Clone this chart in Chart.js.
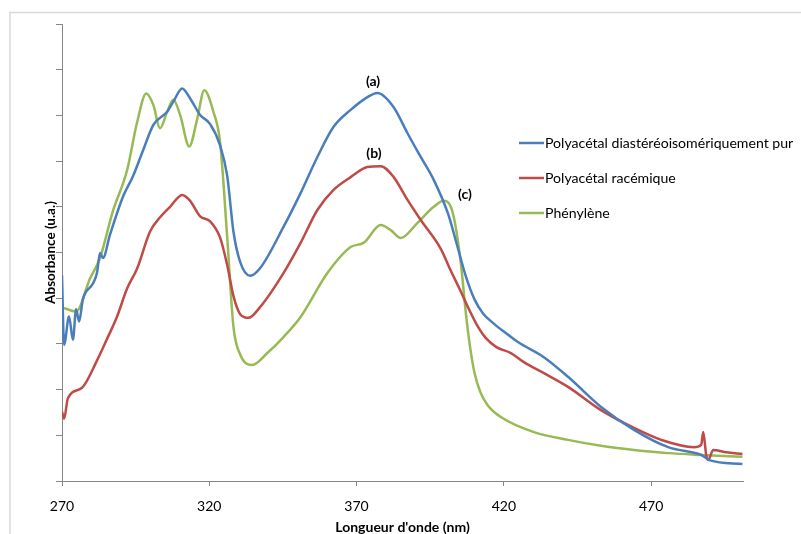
<!DOCTYPE html>
<html>
<head>
<meta charset="utf-8">
<script src="https://cdn.jsdelivr.net/npm/chart.js@4"></script>
<style>
  body { margin: 0; background: #fff; }
  canvas { display: block; }
</style>
</head>
<body>
<canvas id="spectre" width="801" height="534"></canvas>
<script>
// longueurs d'onde (nm) et absorbance (u.a.)
const wlA = [270, 270.7, 272.4, 273.7, 274.8, 275.8, 277.1, 280.5, 281.9, 282.9, 283.9, 286.3, 290.7, 294.1, 297.6, 301.0, 305.7, 307.8, 310.8, 313.5, 316.9, 320.3, 323.7, 326.1, 328.2, 330.5, 333.9, 337.3, 345.2, 351.0, 356.7, 362.2, 368.0, 373.7, 377.1, 382.6, 387.3, 391.8, 396.2, 401.0, 404.3, 407.0, 410.0, 413.0, 416.5, 420.0, 424.8, 433.6, 441.8, 453.0, 464.2, 475.8, 487.0, 490.0, 501.0];
const absA = [4.50, 2.98, 3.60, 3.09, 3.76, 3.49, 3.98, 4.32, 4.56, 4.99, 4.88, 5.39, 6.22, 6.67, 7.25, 7.79, 8.08, 8.30, 8.59, 8.37, 8.01, 7.81, 7.34, 6.67, 5.46, 4.79, 4.49, 4.66, 5.56, 6.30, 7.09, 7.75, 8.12, 8.40, 8.49, 8.18, 7.61, 7.09, 6.59, 5.86, 5.12, 4.50, 3.98, 3.66, 3.45, 3.27, 3.04, 2.71, 2.28, 1.62, 1.12, 0.74, 0.57, 0.45, 0.37];

const wlB = [270, 270.7, 272.0, 276.8, 281.9, 285.3, 288.7, 292.1, 295.5, 299.9, 303.3, 306.7, 310.8, 313.5, 316.9, 320.3, 323.7, 326.1, 328.2, 330.5, 333.3, 337.3, 345.2, 351.0, 356.7, 362.2, 368.0, 373.7, 378.2, 382.6, 387.3, 391.8, 398.6, 402.0, 405.0, 408.0, 411.0, 414.0, 417.5, 422.4, 426.8, 433.6, 441.8, 453.0, 464.2, 473.4, 484.6, 487.0, 487.7, 488.7, 489.4, 491.1, 495.5, 501.0];
const absB = [1.52, 1.36, 1.81, 2.04, 2.64, 3.11, 3.60, 4.21, 4.65, 5.46, 5.77, 6.00, 6.26, 6.13, 5.79, 5.68, 5.32, 4.72, 4.05, 3.65, 3.57, 3.81, 4.55, 5.21, 5.93, 6.37, 6.65, 6.87, 6.89, 6.65, 6.15, 5.71, 5.08, 4.60, 4.20, 3.78, 3.40, 3.12, 2.93, 2.80, 2.60, 2.36, 2.06, 1.55, 1.16, 0.90, 0.74, 0.79, 1.07, 0.57, 0.46, 0.68, 0.63, 0.59];

const wlC = [270, 274.8, 279.5, 282.9, 287.3, 292.1, 295.5, 298.6, 301.0, 303.3, 305.7, 307.8, 310.1, 313.2, 315.9, 318.3, 321.4, 323.7, 326.1, 328.2, 330.5, 334.6, 339.7, 345.2, 351.0, 360.1, 368.0, 372.4, 378.2, 381.6, 385.0, 390.7, 396.2, 399.6, 402.7, 405.4, 407.1, 408.5, 410.0, 412.0, 414.5, 419.0, 430.2, 441.8, 453.0, 464.2, 475.8, 487.0, 501.0];
const absC = [3.80, 3.71, 4.43, 4.88, 5.91, 6.80, 7.85, 8.48, 8.23, 7.72, 8.08, 8.34, 8.01, 7.32, 7.92, 8.55, 8.08, 7.40, 5.32, 3.38, 2.77, 2.54, 2.80, 3.15, 3.59, 4.55, 5.12, 5.21, 5.60, 5.49, 5.32, 5.65, 6.00, 6.13, 5.86, 4.77, 3.68, 2.95, 2.38, 1.95, 1.66, 1.40, 1.07, 0.90, 0.77, 0.68, 0.61, 0.57, 0.53];

const seriesNames = ['Polyacétal diastéréoisomériquement pur', 'Polyacétal racémique', 'Phénylène'];
const seriesColors = ['#4a7ebb', '#be4b48', '#98b954'];

const xTicks = [270, 320, 370, 420, 470];
const yTicks = [0, 1, 2, 3, 4, 5, 6, 7, 8, 9, 10];

// étiquettes (a), (b), (c) : [texte, nm, absorbance]
const peakLabels = [['(a)', 375.6, 8.75], ['(b)', 375.9, 7.16], ['(c)', 406.8, 6.28]];

const FONT = 'Lato, "Open Sans", sans-serif';

function toPoints(xs, ys) {
    return xs.map((x, i) => ({ x: x, y: ys[i] }));
}

// cadre gris clair + légende et étiquettes dessinées à la main
const decor = {
    id: 'decor',
    beforeDraw(chart) {
        const ctx = chart.ctx;
        ctx.save();
        ctx.fillStyle = '#fff';
        ctx.fillRect(0, 0, chart.width, chart.height);
        ctx.strokeStyle = '#d9d9d9';
        ctx.lineWidth = 1.5;
        ctx.strokeRect(10, 12.5, chart.width + 20, chart.height + 20);
        ctx.restore();
    },
    afterDatasetsDraw(chart) {
        const ctx = chart.ctx;
        const xs = chart.scales.x, ys = chart.scales.y;
        ctx.save();
        ctx.fillStyle = '#000';
        ctx.font = 'bold 14px ' + FONT;
        ctx.textAlign = 'center';
        ctx.textBaseline = 'middle';
        peakLabels.forEach(p => {
            ctx.fillText(p[0], xs.getPixelForValue(p[1]), ys.getPixelForValue(p[2]));
        });

        ctx.font = '14.1px ' + FONT;
        ctx.textAlign = 'left';
        chart.data.datasets.forEach((ds, i) => {
            const y = 143 + i * 35;
            ctx.strokeStyle = ds.borderColor;
            ctx.lineWidth = 2.5;
            ctx.beginPath();
            ctx.moveTo(519, y);
            ctx.lineTo(544, y);
            ctx.stroke();
            ctx.fillText(ds.label, 545, y);
        });
        ctx.restore();
    }
};

const ctx = document.getElementById('spectre');
const chart = new Chart(ctx, {
    type: 'line',
    data: {
        datasets: [
            { label: seriesNames[0], data: toPoints(wlA, absA), borderColor: seriesColors[0] },
            { label: seriesNames[1], data: toPoints(wlB, absB), borderColor: seriesColors[1] },
            { label: seriesNames[2], data: toPoints(wlC, absC), borderColor: seriesColors[2] }
        ].map(ds => Object.assign(ds, {
            borderWidth: 2.5,
            pointRadius: 0,
            fill: false,
            cubicInterpolationMode: 'monotone'
        }))
    },
    options: {
        responsive: false,
        animation: false,
        layout: { padding: { top: 24, right: 58, left: 0, bottom: 0 } },
        plugins: {
            legend: { display: false },
            tooltip: { enabled: false }
        },
        scales: {
            x: {
                type: 'linear',
                min: 270,
                max: 501.2,
                afterBuildTicks: (s) => { s.ticks = xTicks.map(v => ({ value: v })); },
                afterFit: (s) => { s.height = 53; },
                grid: { drawOnChartArea: false, drawTicks: true, tickLength: 5, color: '#868686' },
                border: { color: '#868686', width: 1 },
                ticks: { color: '#000', font: { family: FONT, size: 14 }, padding: 12, maxRotation: 0 },
                title: {
                    display: true,
                    text: "Longueur d'onde (nm)",
                    color: '#000',
                    font: { family: FONT, size: 14, weight: 'bold', lineHeight: 1 },
                    padding: { top: 0, bottom: 0 }
                }
            },
            y: {
                min: 0,
                max: 10,
                afterBuildTicks: (s) => { s.ticks = yTicks.map(v => ({ value: v })); },
                afterFit: (s) => { s.width = 62; },
                grid: { drawOnChartArea: false, drawTicks: true, tickLength: 6, color: '#868686' },
                border: { color: '#868686', width: 1 },
                ticks: { callback: () => '' },
                title: {
                    display: true,
                    text: 'Absorbance (u.a.)',
                    color: '#000',
                    font: { family: FONT, size: 13.5, weight: 'bold' },
                    padding: { top: 43, bottom: 0 }
                }
            }
        }
    },
    plugins: [decor]
});
</script>
</body>
</html>
